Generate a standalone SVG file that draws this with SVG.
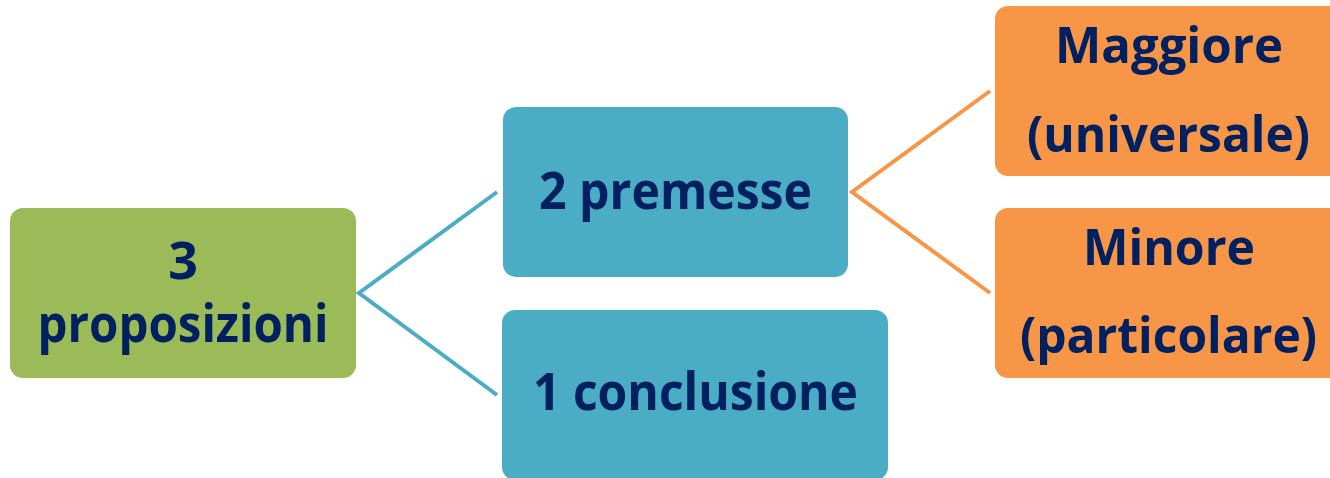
<svg xmlns="http://www.w3.org/2000/svg" width="1330" height="478" viewBox="0 0 1330 478">
<style>
  .lbl { font-family: "Open Sans", "Noto Sans", "Liberation Sans", sans-serif; font-weight: 700; fill: #002060; text-anchor: middle; }
  .green { fill: #9BBB59; }
  .blue { fill: #4BACC6; }
  .orange { fill: #F79646; }
  .cblue { stroke: #4BACC6; stroke-width: 4; fill: none; }
  .corange { stroke: #F79646; stroke-width: 4; fill: none; }
</style>
<rect width="1330" height="478" fill="#ffffff"/>
<g id="connectors">
  <polyline class="cblue" points="497,192 359,293 497,395"/>
  <polyline class="corange" points="990,91 852,192 990,293"/>
</g>
<g id="node-proposizioni">
  <rect class="green" x="10" y="208" width="346" height="170" rx="13"/>
  <text class="lbl" x="183" y="279" font-size="52">3</text>
  <text class="lbl" x="183" y="342" font-size="52" textLength="291" lengthAdjust="spacingAndGlyphs">proposizioni</text>
</g>
<g id="node-premesse">
  <rect class="blue" x="503" y="107" width="345" height="170" rx="13"/>
  <text class="lbl" x="675.5" y="209" font-size="52" textLength="273" lengthAdjust="spacingAndGlyphs">2 premesse</text>
</g>
<g id="node-conclusione">
  <rect class="blue" x="502" y="310" width="386" height="170" rx="13"/>
  <text class="lbl" x="695.5" y="410" font-size="52" textLength="325" lengthAdjust="spacingAndGlyphs">1 conclusione</text>
</g>
<g id="node-maggiore">
  <rect class="orange" x="995" y="6" width="348" height="170" rx="13"/>
  <text class="lbl" x="1169" y="63" font-size="50" textLength="228" lengthAdjust="spacingAndGlyphs">Maggiore</text>
  <text class="lbl" x="1168.5" y="152" font-size="50" textLength="283" lengthAdjust="spacingAndGlyphs">(universale)</text>
</g>
<g id="node-minore">
  <rect class="orange" x="995" y="208" width="348" height="170" rx="13"/>
  <text class="lbl" x="1169" y="265" font-size="50" textLength="172" lengthAdjust="spacingAndGlyphs">Minore</text>
  <text class="lbl" x="1168.5" y="353" font-size="50" textLength="297" lengthAdjust="spacingAndGlyphs">(particolare)</text>
</g>
</svg>
